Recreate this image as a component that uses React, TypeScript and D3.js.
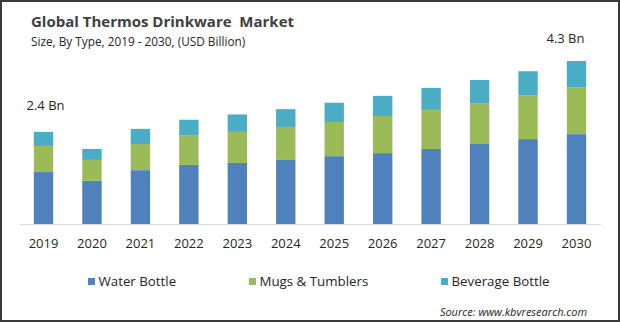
import React from "react";
import * as d3 from "d3";

const years = ["2019","2020","2021","2022","2023","2024","2025","2026","2027","2028","2029","2030"];
const waterBottle = [1.37,1.14,1.42,1.56,1.61,1.69,1.79,1.87,1.98,2.11,2.24,2.37];
const mugsTumblers = [0.69,0.55,0.69,0.77,0.82,0.87,0.90,0.98,1.03,1.08,1.16,1.24];
const beverageBottle = [0.37,0.29,0.40,0.42,0.46,0.47,0.51,0.53,0.58,0.61,0.63,0.69];
const seriesNames = ["Water Bottle","Mugs & Tumblers","Beverage Bottle"];
const annotationYears = ["2019", "2030"];
const annotationLabels = ["2.4 Bn", "4.3 Bn"];

const colors = ["#4F81BD","#9BBB59","#4BACC6"];
const annotationOffsets = [{ dx: 2, dy: -22 }, { dx: -11, dy: -18 }];
const W = 620, H = 322;
const FONT = "'Open Sans', sans-serif";

export default function App() {
  const rows = years.map((y, i) => ({ year: y, a: waterBottle[i], b: mugsTumblers[i], c: beverageBottle[i] }));
  const stack = d3.stack<any>().keys(["a","b","c"]);
  const series = stack(rows);
  const x = d3.scaleBand().domain(years).range([19.3, 600.7]).paddingInner(0.6).paddingOuter(0.3);
  const y = d3.scaleLinear().domain([0, 4.3]).range([224, 61]);
  const totals = rows.map(r => r.a + r.b + r.c);
  const legendX = [88, 249, 441];
  return (
    <svg width={W} height={H} style={{ position: "absolute", left: 0, top: 0, background: "#fff" }} fontFamily={FONT}>
      <rect x={0} y={0} width={W} height={H} fill="#fff" />
      <text x={31} y={27} fontSize={15} fontWeight={700} fill="#404040" style={{ whiteSpace: "pre" }}>Global Thermos Drinkware  Market</text>
      <text x={31} y={46} fontSize={11.8} fill="#262626">Size, By Type, 2019 - 2030, (USD Billion)</text>
      {series.map((s, si) => (
        <g key={si} fill={colors[si]}>
          {s.map((d, i) => (
            <rect key={i} x={x(years[i])} width={x.bandwidth()} y={y(d[1])} height={y(d[0]) - y(d[1])} />
          ))}
        </g>
      ))}
      <line x1={20} x2={601} y1={224.5} y2={224.5} stroke="#d9d9d9" strokeWidth={1} />
      {years.map(yr => (
        <text key={yr} x={(x(yr) as number) + x.bandwidth() / 2} y={248} textAnchor="middle" fontSize={13} fill="#262626">{yr}</text>
      ))}
      {annotationYears.map((yr, k) => {
        const i = years.indexOf(yr);
        return (
          <text key={yr} x={(x(yr) as number) + x.bandwidth() / 2 + annotationOffsets[k].dx} y={y(totals[i]) + annotationOffsets[k].dy} textAnchor="middle" fontSize={13} fill="#262626">{annotationLabels[k]}</text>
        );
      })}
      {seriesNames.map((n, i) => (
        <g key={n}>
          <rect x={legendX[i]} y={278} width={7} height={7} fill={colors[i]} />
          <text x={legendX[i] + 10.5} y={286} fontSize={13.3} fill="#262626">{n}</text>
        </g>
      ))}
      <text x={587} y={316} textAnchor="end" fontSize={11} fontStyle="italic" fill="#262626">Source: www.kbvresearch.com</text>
      <rect x={1} y={1} width={W - 2} height={H - 2} fill="none" stroke="#3a3a3a" strokeWidth={2} />
    </svg>
  );
}
